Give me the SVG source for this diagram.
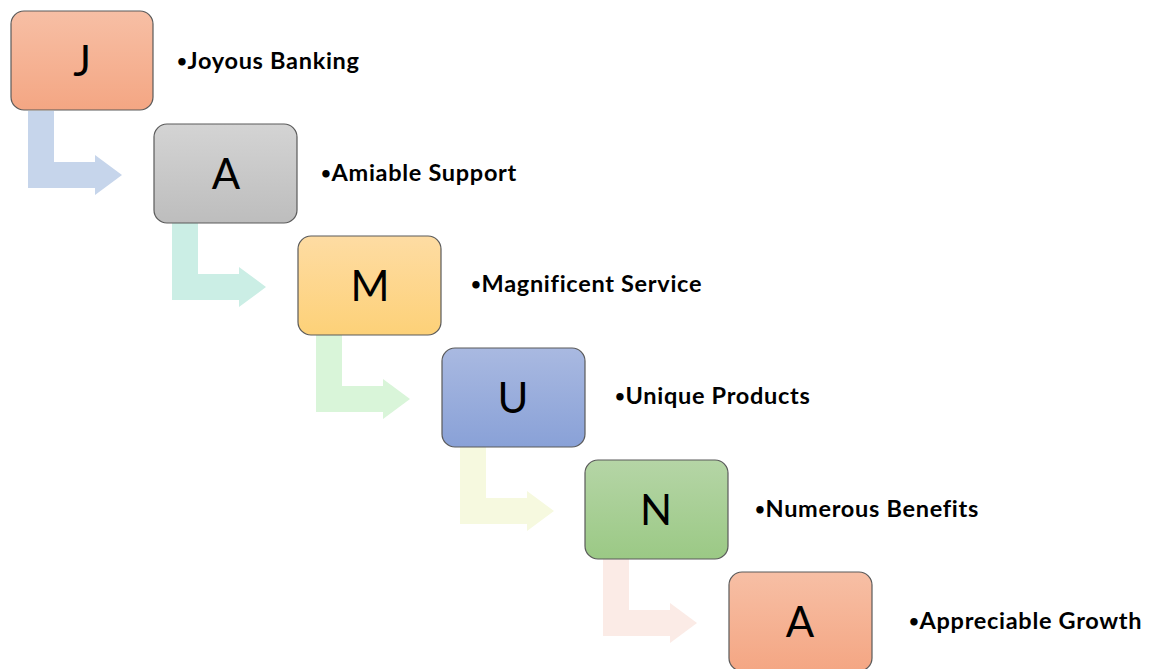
<svg xmlns="http://www.w3.org/2000/svg" width="1152" height="669" viewBox="0 0 1152 669">
  <defs>
    <linearGradient id="gPeach" x1="0" y1="0" x2="0" y2="1">
      <stop offset="0" stop-color="#f7bfa5"/>
      <stop offset="1" stop-color="#f4a683"/>
    </linearGradient>
    <linearGradient id="gGray" x1="0" y1="0" x2="0" y2="1">
      <stop offset="0" stop-color="#d4d4d4"/>
      <stop offset="1" stop-color="#bdbdbd"/>
    </linearGradient>
    <linearGradient id="gGold" x1="0" y1="0" x2="0" y2="1">
      <stop offset="0" stop-color="#fedca3"/>
      <stop offset="1" stop-color="#fdd178"/>
    </linearGradient>
    <linearGradient id="gBlue" x1="0" y1="0" x2="0" y2="1">
      <stop offset="0" stop-color="#a9b9e1"/>
      <stop offset="1" stop-color="#89a1d7"/>
    </linearGradient>
    <linearGradient id="gGreen" x1="0" y1="0" x2="0" y2="1">
      <stop offset="0" stop-color="#b5d5a6"/>
      <stop offset="1" stop-color="#9bc985"/>
    </linearGradient>
    <!-- bent arrow shape, local origin at top-left of its stem -->
    <path id="bent" d="M0 0 H26 V51 H67 V44 L94 64 L67 84 V77 H0 Z"/>
  </defs>
  <style>
    .box { stroke: #5a5a5a; stroke-width: 1.2; }
    .letter { font-family: "Lato", "Liberation Sans", sans-serif; font-size: 42px; fill: #000; text-anchor: middle; }
    .label { font-family: "Lato", "Liberation Sans", sans-serif; font-weight: bold; font-size: 23.5px; letter-spacing: 0.7px; fill: #000; }
    .dot { font-size: 17px; }
  </style>

  <g id="connectors">
    <use href="#bent" x="28" y="111" fill="#c6d5eb"/>
    <use href="#bent" x="172" y="223" fill="#cbeee5"/>
    <use href="#bent" x="316" y="335" fill="#d9f5d9"/>
    <use href="#bent" x="460" y="447" fill="#f6f9df"/>
    <use href="#bent" x="603" y="559" fill="#fbebe6"/>
  </g>

  <g id="node-j">
    <rect class="box" x="11" y="11" width="142" height="99" rx="13" fill="url(#gPeach)"/>
    <text class="letter" x="82" y="76">J</text>
    <text class="label" x="177" y="69"><tspan class="dot" dy="-2">•</tspan><tspan dy="2">Joyous Banking</tspan></text>
  </g>
  <g id="node-a1">
    <rect class="box" x="154" y="124" width="143" height="99" rx="13" fill="url(#gGray)"/>
    <text class="letter" x="226" y="189">A</text>
    <text class="label" x="321" y="181"><tspan class="dot" dy="-2">•</tspan><tspan dy="2">Amiable Support</tspan></text>
  </g>
  <g id="node-m">
    <rect class="box" x="298" y="236" width="143" height="99" rx="13" fill="url(#gGold)"/>
    <text class="letter" x="370" y="301">M</text>
    <text class="label" x="471" y="292"><tspan class="dot" dy="-2">•</tspan><tspan dy="2">Magnificent Service</tspan></text>
  </g>
  <g id="node-u">
    <rect class="box" x="442" y="348" width="143" height="99" rx="13" fill="url(#gBlue)"/>
    <text class="letter" x="513" y="413">U</text>
    <text class="label" x="615" y="404"><tspan class="dot" dy="-2">•</tspan><tspan dy="2">Unique Products</tspan></text>
  </g>
  <g id="node-n">
    <rect class="box" x="585" y="460" width="143" height="99" rx="13" fill="url(#gGreen)"/>
    <text class="letter" x="656" y="525">N</text>
    <text class="label" x="755" y="517"><tspan class="dot" dy="-2">•</tspan><tspan dy="2">Numerous Benefits</tspan></text>
  </g>
  <g id="node-a2">
    <rect class="box" x="729" y="572" width="143" height="99" rx="13" fill="url(#gPeach)"/>
    <text class="letter" x="800" y="637">A</text>
    <text class="label" x="909" y="629"><tspan class="dot" dy="-2">•</tspan><tspan dy="2">Appreciable Growth</tspan></text>
  </g>
</svg>
